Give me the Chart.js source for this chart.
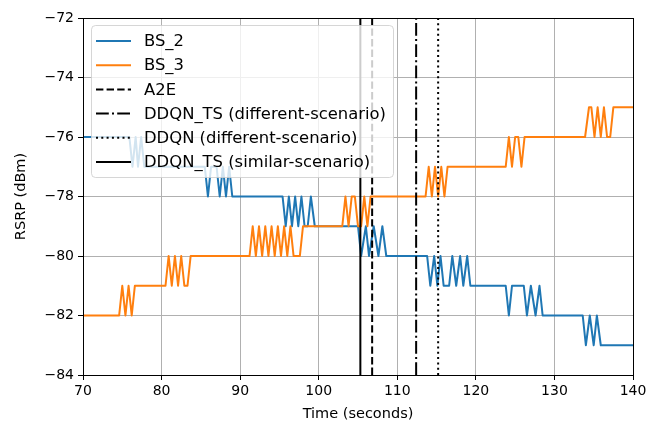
<!DOCTYPE html>
<html>
<head>
<meta charset="utf-8">
<script src="https://cdn.jsdelivr.net/npm/chart.js@4/dist/chart.umd.min.js"></script>
<style>
  body { margin: 0; background: #fff; }
  canvas { display: block; }
</style>
</head>
<body>
<canvas id="rsrpChart" width="660" height="424"></canvas>
<script>
// =====================
// DATA
// =====================
const bs2Times = [70, 75.9, 76.3, 76.7, 77.0, 77.4, 77.8, 85.5, 85.9, 86.3, 87.0, 87.4, 87.8, 88.2, 88.6, 89.0,
  95.4, 95.8, 96.2, 96.6, 97.0, 97.4, 97.8, 98.2, 98.6, 99.0, 99.5, 105.0, 105.4, 106.0, 106.4, 107.0, 107.6,
  108.1, 108.6, 113.8, 114.2, 114.7, 115.1, 115.5, 115.9, 116.6, 117.0, 117.5, 118.0, 118.4, 118.9, 119.3,
  123.8, 124.2, 124.6, 126.1, 126.5, 127.0, 127.6, 128.1, 128.5, 133.6, 134.0, 134.5, 135.0, 135.4, 135.9, 140];
const bs2Rsrp = [-76, -76, -77, -76, -77, -76, -77, -77, -78, -77, -77, -78, -77, -78, -77, -78,
  -78, -79, -78, -79, -78, -79, -78, -79, -79, -78, -79, -79, -80, -79, -80, -79, -80,
  -79, -80, -80, -81, -80, -81, -80, -81, -81, -80, -81, -80, -81, -80, -81,
  -81, -82, -81, -81, -82, -81, -82, -81, -82, -82, -83, -82, -83, -82, -83, -83];

const bs3Times = [70, 74.6, 75.0, 75.4, 75.8, 76.2, 76.6, 80.5, 80.9, 81.3, 81.7, 82.1, 82.5, 82.9, 83.3, 83.7,
  91.2, 91.6, 92.0, 92.4, 92.8, 93.2, 93.6, 94.0, 94.4, 94.8, 95.2, 95.6, 96.0, 96.4, 96.8, 97.6, 98.0,
  103.0, 103.4, 103.8, 104.2, 104.6, 105.0, 105.4, 105.8, 106.2, 106.6, 113.6, 114.0, 114.4, 114.8, 115.2,
  115.6, 116.0, 116.4, 123.8, 124.2, 124.6, 125.0, 125.4, 125.8, 126.2, 133.9, 134.4, 134.7, 135.1, 135.5,
  135.9, 136.3, 136.7, 137.1, 137.5, 140];
const bs3Rsrp = [-82, -82, -81, -82, -81, -82, -81, -81, -80, -81, -80, -81, -80, -81, -81, -80,
  -80, -79, -80, -79, -80, -79, -80, -79, -80, -79, -80, -79, -80, -79, -80, -80, -79,
  -79, -78, -79, -78, -78, -79, -79, -78, -79, -78, -78, -77, -78, -77, -78,
  -77, -78, -77, -77, -76, -77, -76, -76, -77, -76, -76, -75, -75, -76, -75,
  -76, -75, -76, -76, -75, -75];

// handover decision times (vertical lines)
const switchLabels = ["A2E", "DDQN_TS (different-scenario)", "DDQN (different-scenario)", "DDQN_TS (similar-scenario)"];
const switchTimes = [106.8, 112.4, 115.2, 105.3];
const switchDashes = [[7.4, 3.2], [12.8, 3.2, 2, 3.2], [2, 3.3], []];

const xTicks = [70, 80, 90, 100, 110, 120, 130, 140];
const yTicks = [-84, -82, -80, -78, -76, -74, -72];

// =====================
// BUILD DATASETS
// =====================
const toPoints = (xs, ys) => xs.map((x, i) => ({ x: x, y: ys[i] }));

const datasets = [
  { label: "BS_2", data: toPoints(bs2Times, bs2Rsrp), borderColor: "#1f77b4", order: 6 },
  { label: "BS_3", data: toPoints(bs3Times, bs3Rsrp), borderColor: "#ff7f0e", order: 5 }
];
switchTimes.forEach((t, i) => {
  datasets.push({
    label: switchLabels[i],
    data: [{ x: t, y: yTicks[0] }, { x: t, y: yTicks[yTicks.length - 1] }],
    borderColor: "#000000",
    borderDash: switchDashes[i],
    order: 4 - i
  });
});
datasets.forEach(ds => {
  ds.borderWidth = 2;
  ds.pointRadius = 0;
  ds.tension = 0;
  ds.fill = false;
  ds.borderJoinStyle = "round";
});

// =====================
// PLUGINS: frame + matplotlib-like legend
// =====================
const frame = {
  id: "frame",
  afterDatasetsDraw(chart) {
    const { ctx, chartArea: a } = chart;
    ctx.save();
    ctx.strokeStyle = "#000";
    ctx.lineWidth = 1;
    ctx.strokeRect(Math.round(a.left) + 0.5, Math.round(a.top) + 0.5,
      Math.round(a.right - a.left), Math.round(a.bottom - a.top));
    ctx.restore();
  }
};

const mplLegend = {
  id: "mplLegend",
  afterDraw(chart) {
    const { ctx, chartArea: a } = chart;
    const bx = a.left + 8, by = a.top + 7, bw = 302, bh = 152;
    ctx.save();
    ctx.beginPath();
    ctx.roundRect(bx + 0.5, by + 0.5, bw, bh, 4);
    ctx.fillStyle = "rgba(255,255,255,0.8)";
    ctx.fill();
    ctx.strokeStyle = "rgba(204,204,204,0.8)";
    ctx.lineWidth = 1;
    ctx.stroke();

    ctx.font = "16.4px 'DejaVu Sans'";
    ctx.textBaseline = "middle";
    chart.data.datasets.forEach((ds, i) => {
      const ry = by + 16 + i * 24.2;
      ctx.beginPath();
      ctx.setLineDash(ds.borderDash || []);
      ctx.strokeStyle = ds.borderColor;
      ctx.lineWidth = 2;
      ctx.moveTo(bx + 5, ry);
      ctx.lineTo(bx + 40, ry);
      ctx.stroke();
      ctx.setLineDash([]);
      ctx.fillStyle = "#000";
      ctx.fillText(ds.label, bx + 53, ry + 1);
    });
    ctx.restore();
  }
};

// =====================
// CHART
// =====================
const tickFont = { family: "'DejaVu Sans'", size: 14 };
const titleFont = { family: "'DejaVu Sans'", size: 14.5 };

new Chart(document.getElementById("rsrpChart"), {
  type: "line",
  data: { datasets: datasets },
  options: {
    responsive: false,
    devicePixelRatio: 1,
    animation: false,
    layout: { padding: { top: 18, right: 27, left: 0, bottom: 0 } },
    plugins: { legend: { display: false }, tooltip: { enabled: false } },
    scales: {
      x: {
        type: "linear",
        min: xTicks[0],
        max: xTicks[xTicks.length - 1],
        afterFit: s => { s.height = 49; },
        afterBuildTicks: s => { s.ticks = xTicks.map(v => ({ value: v })); },
        ticks: { font: tickFont, color: "#000", padding: 3, maxRotation: 0 },
        grid: { color: "#b0b0b0", lineWidth: 1, tickColor: "#000", tickLength: 5 },
        border: { display: false },
        title: { display: true, text: "Time (seconds)", font: titleFont, color: "#000", padding: { top: 0, bottom: 1 } }
      },
      y: {
        min: yTicks[0],
        max: yTicks[yTicks.length - 1],
        afterFit: s => { s.width = 83; },
        afterBuildTicks: s => { s.ticks = yTicks.map(v => ({ value: v })); },
        ticks: {
          font: tickFont, color: "#000", padding: 4,
          callback: v => String(v).replace("-", "\u2212")
        },
        grid: { color: "#b0b0b0", lineWidth: 1, tickColor: "#000", tickLength: 5 },
        border: { display: false },
        title: { display: true, text: "RSRP (dBm)", font: titleFont, color: "#000", padding: { top: 13, bottom: 0 } }
      }
    }
  },
  plugins: [frame, mplLegend]
});
</script>
</body>
</html>
